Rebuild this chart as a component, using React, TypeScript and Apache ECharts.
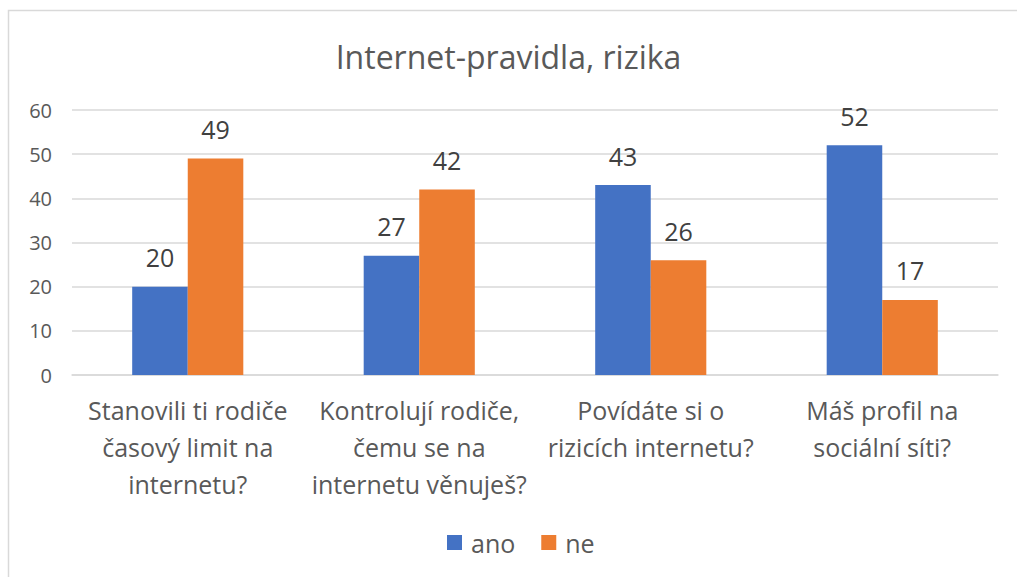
import React, { useEffect, useRef } from "react";
import * as echarts from "echarts";

const categories = [
  "Stanovili ti rodiče\nčasový limit na\ninternetu?",
  "Kontrolují rodiče,\nčemu se na\ninternetu věnuješ?",
  "Povídáte si o\nrizicích internetu?",
  "Máš profil na\nsociální síti?",
];
const ano = [20, 27, 43, 52];
const ne = [49, 42, 26, 17];
const yTicks = { min: 0, max: 60, interval: 10 };

const FONT = "'Open Sans', 'Noto Sans', sans-serif";

export default function App() {
  const ref = useRef<HTMLDivElement>(null);
  useEffect(() => {
    const chart = echarts.init(ref.current!, null, { renderer: "svg" });
    const labelStyle = {
      show: true,
      position: "top",
      distance: 17,
      fontSize: 25,
      color: "#404040",
      fontFamily: FONT,
    };
    chart.setOption({
      animation: false,
      backgroundColor: "#ffffff",
      textStyle: { fontFamily: FONT },
      title: {
        text: "Internet-pravidla, rizika",
        left: "center",
        top: 35,
        textStyle: { fontSize: 32, fontWeight: "normal", color: "#595959", fontFamily: FONT },
      },
      graphic: [
        {
          type: "rect",
          shape: { x: 8.5, y: 10.5, width: 1100, height: 700 },
          style: { fill: "none", stroke: "#d9d9d9", lineWidth: 1.5 },
          silent: true,
        },
      ],
      legend: {
        bottom: 17,
        left: 442,
        itemWidth: 15,
        itemHeight: 15,
        itemGap: 26,
        icon: "rect",
        textStyle: { fontSize: 25, color: "#595959", fontFamily: FONT, padding: [0, 0, 0, 4] },
        data: ["ano", "ne"],
      },
      grid: { left: 72, right: 19, top: 110, bottom: 202, containLabel: false },
      xAxis: {
        type: "category",
        data: categories,
        axisLine: { lineStyle: { color: "#d9d9d9", width: 1.5 } },
        axisTick: { show: false },
        axisLabel: {
          fontSize: 25,
          color: "#595959",
          lineHeight: 37,
          margin: 16,
          interval: 0,
          fontFamily: FONT,
        },
      },
      yAxis: {
        type: "value",
        min: yTicks.min,
        max: yTicks.max,
        interval: yTicks.interval,
        axisLine: { show: false },
        axisTick: { show: false },
        splitLine: { lineStyle: { color: "#d9d9d9", width: 1.5 } },
        axisLabel: { fontSize: 20, color: "#595959", margin: 20, fontFamily: FONT },
      },
      series: [
        {
          name: "ano",
          type: "bar",
          data: ano,
          itemStyle: { color: "#4472c4" },
          barGap: "0%",
          barCategoryGap: "52%",
          label: labelStyle,
        },
        {
          name: "ne",
          type: "bar",
          data: ne,
          itemStyle: { color: "#ed7d31" },
          barGap: "0%",
          barCategoryGap: "52%",
          label: labelStyle,
        },
      ],
    });
    return () => chart.dispose();
  }, []);
  return (
    <div
      ref={ref}
      style={{ position: "fixed", left: 0, top: 0, width: 1017, height: 577 }}
    />
  );
}
